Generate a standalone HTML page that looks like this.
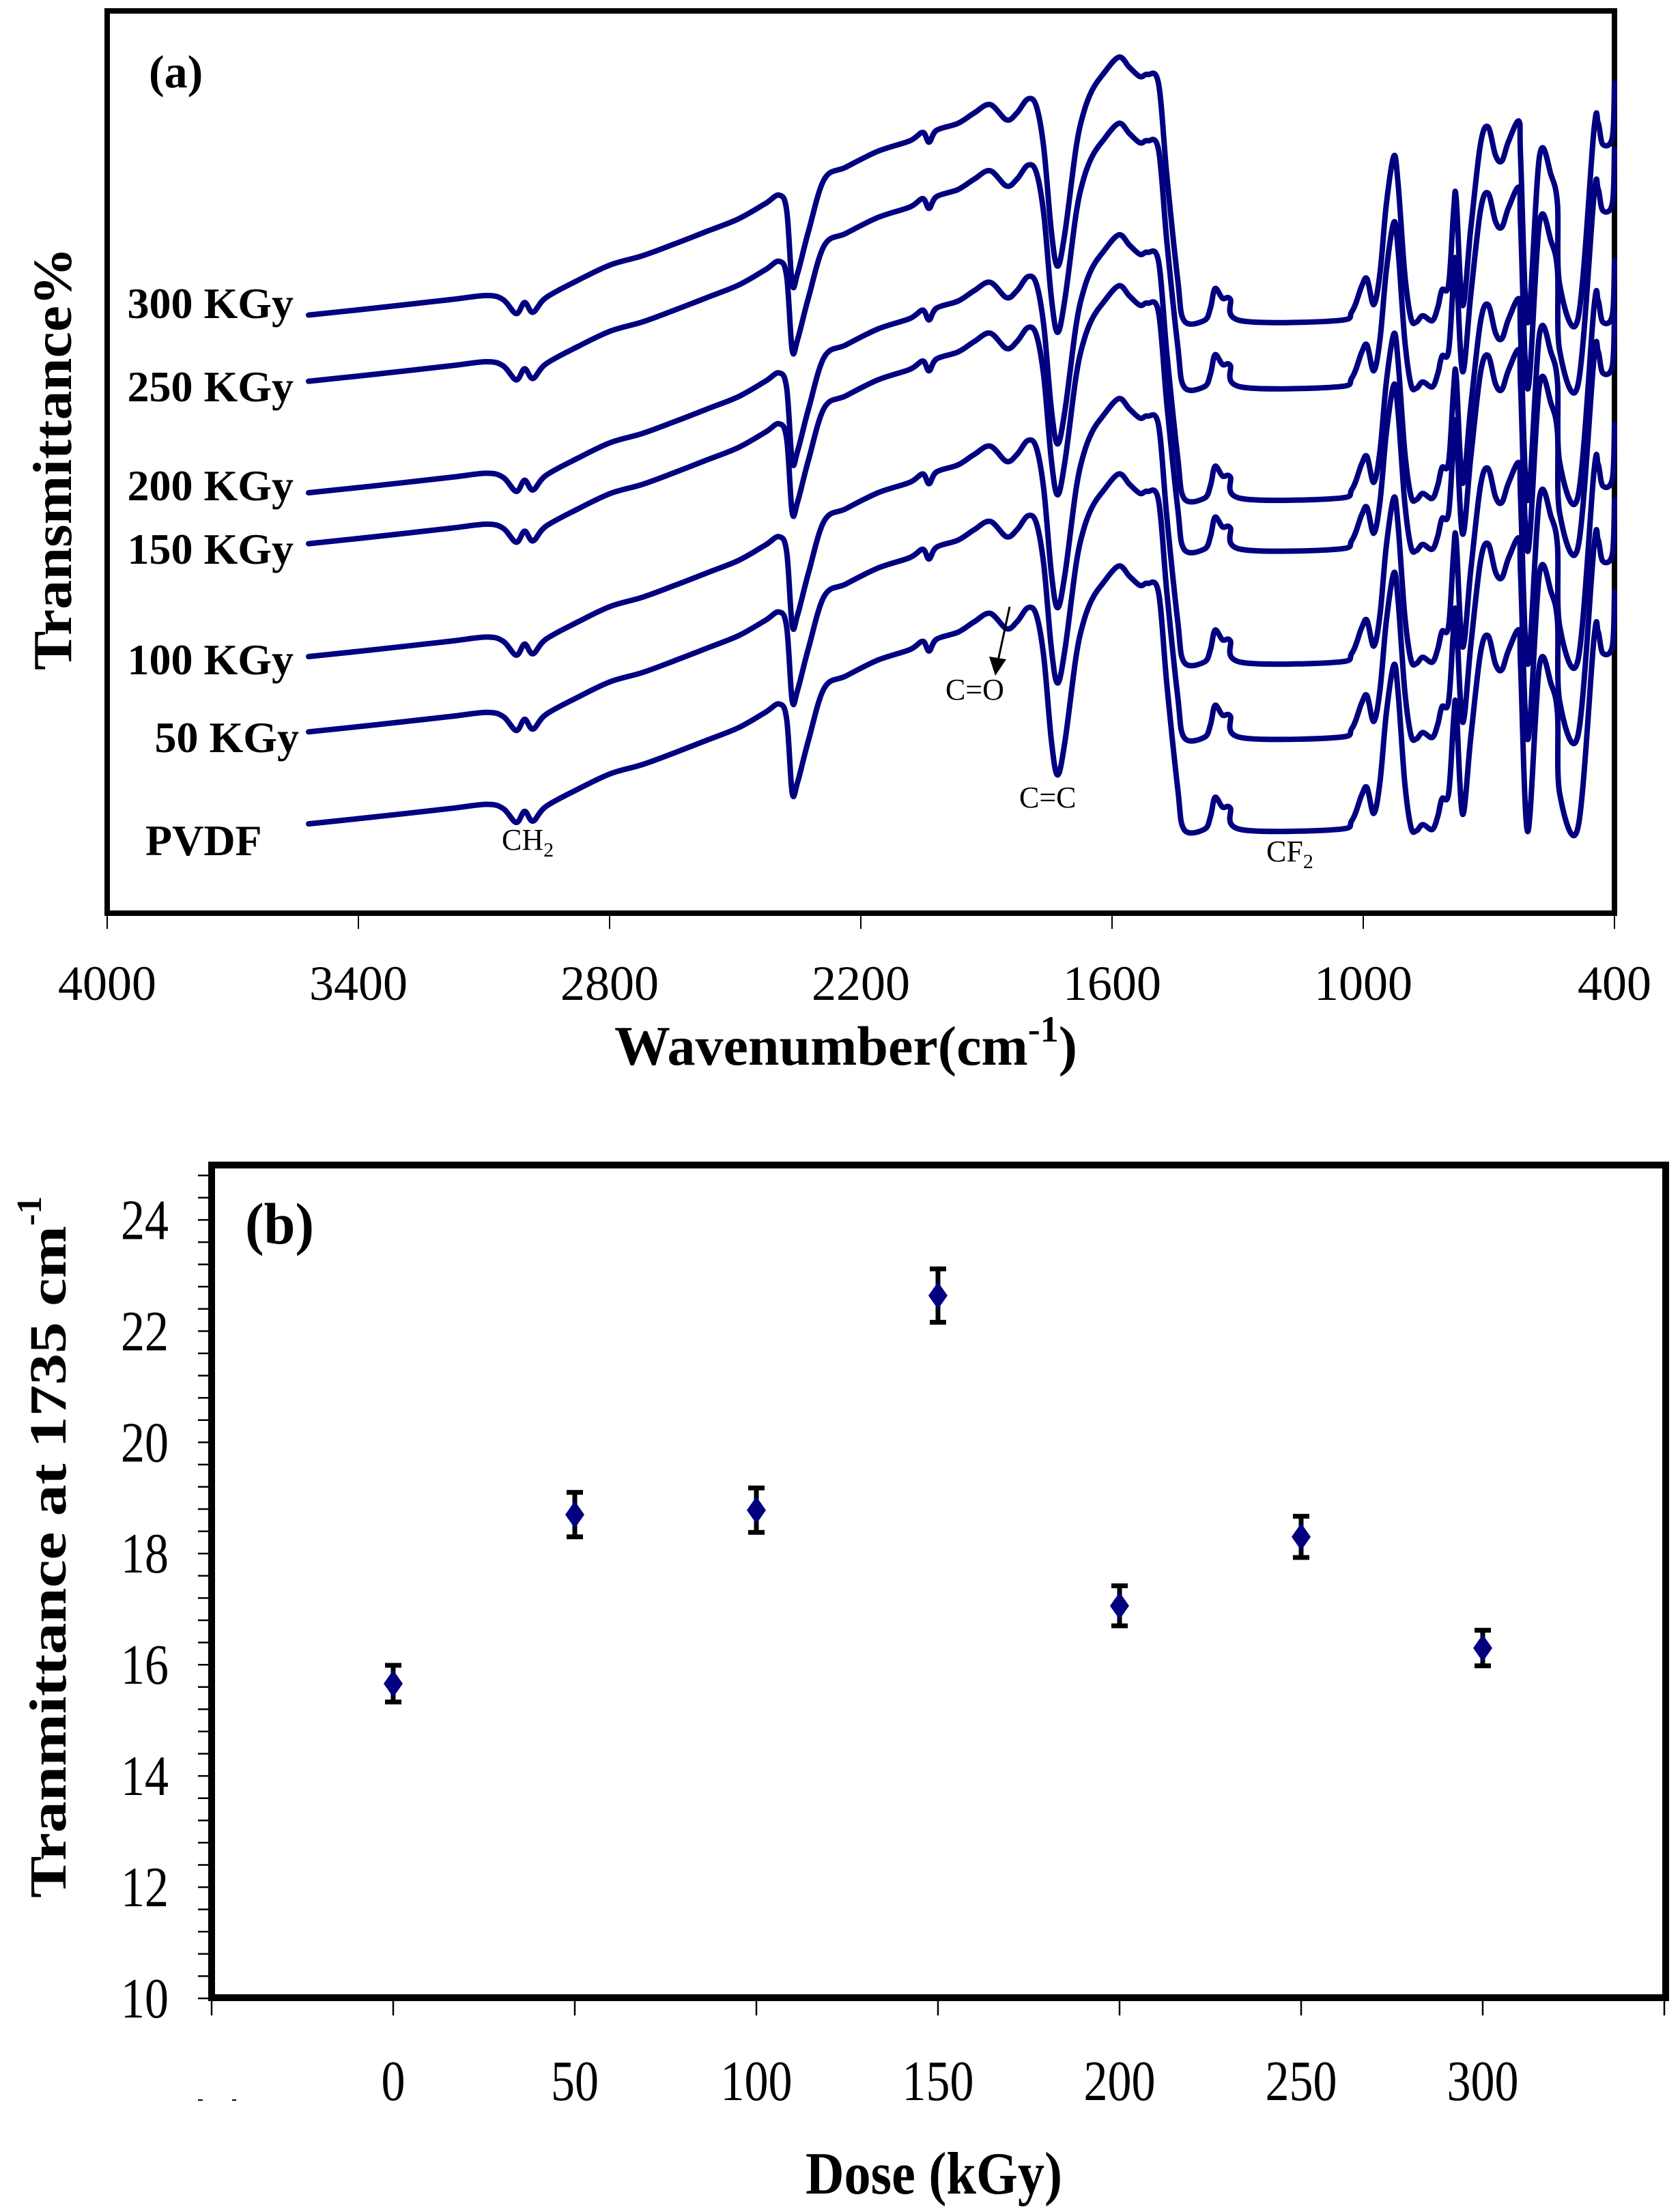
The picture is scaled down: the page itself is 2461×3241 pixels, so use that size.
<!DOCTYPE html>
<html><head><meta charset="utf-8"><style>
html,body{margin:0;padding:0;background:#fff;}
svg{display:block;}
text{font-family:"Liberation Serif",serif;fill:#000;}
</style></head><body>
<svg id="fig" xmlns="http://www.w3.org/2000/svg" width="2461" height="3241" viewBox="0 0 2461 3241">
<g id="panelA"></g>
<g id="panelB"></g>
</svg>
<script>
// ---------- Panel (a) data ----------
const wnTicks = [4000, 3400, 2800, 2200, 1600, 1000, 400];
const spectrumWn = [3519,3361,3182,3093,3054,3023,3003,2983,2952,2875,2798,2722,2645,2568,2492,2428,2395,2377,2364,2351,2325,2287,2236,2159,2083,2052,2037,2019,1968,1929,1891,1852,1827,1801,1781,1763,1745,1730,1712,1686,1668,1648,1622,1584,1558,1533,1515,1489,1469,1443,1428,1380,1365,1354,1336,1318,1293,1062,1027,1004,991,975,960,945,927,917,901,886,873,858,835,822,812,796,784,778,763,743,720,702,684,669,653,628,624,607,579,551,536,531,487,449,439,428,405,400];
const spectrumT = [0,10,22,28,22,2,18,4,25,50,72,85,102,120,138,160,172,150,45,60,120,195,212,235,250,262,248,265,275,290,302,280,290,310,300,240,120,70,120,240,290,322,345,370,355,342,345,332,200,50,-8,-8,10,38,24,23,-8,-8,5,41,52,15,60,158,228,190,60,-5,-10,-1,-8,11,36,44,151,167,14,125,245,270,229,221,249,278,223,-11,228,200,158,44,-5,265,276,245,255,333];
const sampleNames = ["300 KGy","250 KGy","200 KGy","150 KGy","100 KGy","50 KGy","PVDF"];
const sampleBase = [850,755,595,522,360,252,120];

// ---------- Panel (b) data ----------
const doseValues = [0,50,100,150,200,250,300];
const transValues = [15.66,18.70,18.78,22.64,17.06,18.30,16.30];
const transErrors = [0.33,0.40,0.40,0.48,0.36,0.37,0.32];
const doseTicks = [-50,0,50,100,150,200,250,300,350];
const doseTickLabels = ["0","50","100","150","200","250","300"];
const transTickLabels = [10,12,14,16,18,20,22,24];

const NS = "http://www.w3.org/2000/svg";
function mk(parent, tag, attrs, txt){
  const e = document.createElementNS(NS, tag);
  for (const k in attrs) e.setAttribute(k, attrs[k]);
  if (txt !== undefined) e.textContent = txt;
  parent.appendChild(e);
  return e;
}
function smoothPath(pts){
  let d = 'M'+pts[0][0].toFixed(1)+' '+pts[0][1].toFixed(1);
  const t = 0.5;
  for (let i=0;i<pts.length-1;i++){
    const p0 = pts[i-1]||pts[i], p1=pts[i], p2=pts[i+1], p3=pts[i+2]||p2;
    const c1x = p1[0]+(p2[0]-p0[0])*t/3, c1y = p1[1]+(p2[1]-p0[1])*t/3;
    const c2x = p2[0]-(p3[0]-p1[0])*t/3, c2y = p2[1]-(p3[1]-p1[1])*t/3;
    d += 'C'+c1x.toFixed(1)+' '+c1y.toFixed(1)+' '+c2x.toFixed(1)+' '+c2y.toFixed(1)+' '+p2[0].toFixed(1)+' '+p2[1].toFixed(1);
  }
  return d;
}

// ===== Panel A =====
const A = document.getElementById('panelA');
const aL=157, aR=2365, aT=16, aB=1338;
const xA = wn => aL + (4000 - wn) / 3600 * (aR - aL);
const yA = v => 2 + 1.0213 * (1300 - v);

let fr = mk(A,'rect',{x:aL,y:aT,width:aR-aL,height:aB-aT,fill:'none',stroke:'#000','stroke-width':8});



wnTicks.forEach(t=>{
  const x = xA(t);
  const tk = mk(A,'line',{x1:x,y1:aB+4,x2:x,y2:1361,stroke:'#000','stroke-width':2});
  
  
  const lb = mk(A,'text',{x:x,y:1465,'font-size':72,'text-anchor':'middle'},String(t));
  
  
});

sampleNames.forEach((nm,i)=>{
  const pts = spectrumWn.map((w,j)=>[xA(w), yA(sampleBase[i]+spectrumT[j])]);
  const p = mk(A,'path',{d:smoothPath(pts),fill:'none',stroke:'#000080','stroke-width':8,'stroke-linejoin':'round','stroke-linecap':'round'});
  
  
});

const labelY = [466,588,733,826,988,1102,1253];
const labelX = [430,430,430,430,430,438,213];
sampleNames.forEach((nm,i)=>{
  const anchor = nm==='PVDF' ? 'start' : 'end';
  const t = mk(A,'text',{x:labelX[i],y:labelY[i],'font-size':64,'font-weight':'bold','text-anchor':anchor},nm);
  
  
});

let ta = mk(A,'text',{x:218,y:128,'font-size':68,'font-weight':'bold','font-family':'Liberation Sans, sans-serif'},'(a)');



let ch = mk(A,'text',{x:735,y:1245,'font-size':44});


ch.innerHTML = 'CH<tspan font-size="30" dy="10">2</tspan>';
let co = mk(A,'text',{x:1385,y:1025,'font-size':44},'C=O');


let arr = mk(A,'line',{x1:1479,y1:889,x2:1462,y2:968,stroke:'#000','stroke-width':3});


let ah = mk(A,'path',{d:'M1449 962 L1458 990 L1474 966 Z',fill:'#000'});


let cc = mk(A,'text',{x:1493,y:1183,'font-size':44},'C=C');


let cf = mk(A,'text',{x:1855,y:1262,'font-size':44});


cf.innerHTML = 'CF<tspan font-size="30" dy="10">2</tspan>';

let ytA = mk(A,'text',{x:0,y:0,'font-size':80,'font-weight':'bold','text-anchor':'middle',transform:'translate(104,672) rotate(-90)',textLength:620,lengthAdjust:'spacingAndGlyphs'},'Transmittance%');


let xtA = mk(A,'text',{x:900,y:1560,'font-size':82,'font-weight':'bold'});


xtA.innerHTML = 'Wavenumber(cm<tspan font-size="54" dy="-34">-1</tspan><tspan dy="34">)</tspan>';

// ===== Panel B =====
const B = document.getElementById('panelB');
const bL=310, bR=2440, bT=1707, bB=2927;
const xB = d => 576 + (d - 0) / 50 * 266;
const yB = v => 2928 - (v - 10) * 81.47;

let frb = mk(B,'rect',{x:bL,y:bT,width:bR-bL,height:bB-bT,fill:'none',stroke:'#000','stroke-width':10});



for (let k=0; k<=37; k++){
  const v = 10 + k*0.4;
  const y = yB(v);
  const tk = mk(B,'line',{x1:290,y1:y,x2:bL-4,y2:y,stroke:'#000','stroke-width':2.5});
  
  
}
transTickLabels.forEach(v=>{
  const t = mk(B,'text',{x:247,y:yB(v)+28,'font-size':84,'text-anchor':'end',textLength:70,lengthAdjust:'spacingAndGlyphs'},String(v));
  
  
});
doseTicks.forEach(d=>{
  const x = xB(d);
  const tk = mk(B,'line',{x1:x,y1:bB+5,x2:x,y2:2953,stroke:'#000','stroke-width':2.5});
  
  
});
doseTickLabels.forEach((s,i)=>{
  const t = mk(B,'text',{x:xB(doseValues[i]),y:3077,'font-size':84,'text-anchor':'middle',textLength:35*s.length,lengthAdjust:'spacingAndGlyphs'},s);
  
  
});
let sm1 = mk(B,'line',{x1:290,y1:3077,x2:297,y2:3077,stroke:'#000','stroke-width':2});


let sm2 = mk(B,'line',{x1:340,y1:3077,x2:346,y2:3077,stroke:'#000','stroke-width':2});



doseValues.forEach((d,i)=>{
  const x = xB(d), y = yB(transValues[i]);
  const yt = yB(transValues[i]+transErrors[i]), yb = yB(transValues[i]-transErrors[i]);
  const eb = mk(B,'path',{d:`M${x} ${yt} L${x} ${yb} M${x-12} ${yt} L${x+12} ${yt} M${x-12} ${yb} L${x+12} ${yb}`,stroke:'#000','stroke-width':7,fill:'none'});
  
  
  const m = mk(B,'path',{d:`M${x} ${y-20} L${x+14} ${y} L${x} ${y+20} L${x-14} ${y} Z`,fill:'#000080'});
  
  
});

let tb = mk(B,'text',{x:359,y:1822,'font-size':86,'font-weight':'bold','font-family':'Liberation Sans, sans-serif',textLength:101,lengthAdjust:'spacingAndGlyphs'},'(b)');



let ytB = mk(B,'text',{x:0,y:0,'font-size':76,'font-weight':'bold','text-anchor':'start',transform:'translate(96,2781) rotate(-90)'});


ytB.innerHTML = '<tspan textLength="985" lengthAdjust="spacingAndGlyphs">Tranmittance at 1735 cm</tspan><tspan font-size="52" dy="-36">-1</tspan>';

let xtB = mk(B,'text',{x:1180,y:3214,'font-size':88,'font-weight':'bold',textLength:376,lengthAdjust:'spacingAndGlyphs'},'Dose (kGy)');


</script>
</body></html>
